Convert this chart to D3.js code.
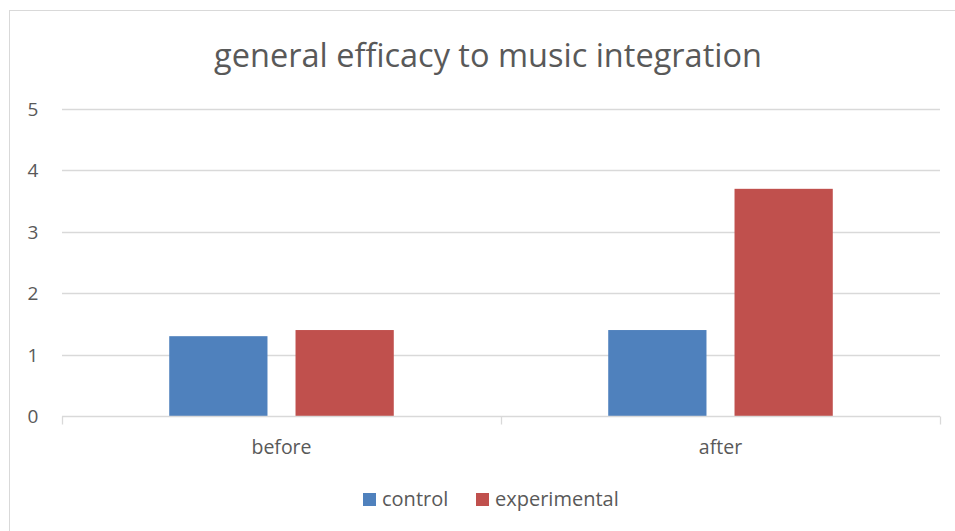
<!DOCTYPE html>
<html>
<head>
<meta charset="utf-8">
<script src="https://cdn.jsdelivr.net/npm/d3@7"></script>
<style>
  body { margin: 0; background: #fff; }
  text { font-family: "Open Sans", "Liberation Sans", sans-serif; fill: #595959; }
</style>
</head>
<body>
<div id="chart"></div>
<script>
// chart data
const categories = ["before", "after"];
const seriesNames = ["control", "experimental"];
const control = [1.3, 1.4];
const experimental = [1.4, 3.7];
const yTicks = [0, 1, 2, 3, 4, 5];
const colors = ["#4f81bd", "#c0504d"];

const width = 955, height = 531;
const margin = { left: 62, right: 15, top: 109, bottom: 115 };

const svg = d3.select("#chart").append("svg")
  .attr("width", width)
  .attr("height", height);

// outer chart border (runs off right/bottom edges)
svg.append("rect")
  .attr("x", 9.5).attr("y", 10.5)
  .attr("width", width + 10).attr("height", height + 10)
  .attr("fill", "none")
  .attr("stroke", "#d9d9d9");

const x0 = d3.scaleBand()
  .domain(categories)
  .range([margin.left, width - margin.right]);

const x1 = d3.scaleBand()
  .domain(seriesNames)
  .range([0, x0.bandwidth()])
  .paddingInner(0.222)
  .paddingOuter(0.849);

const y = d3.scaleLinear()
  .domain([0, 5])
  .range([height - margin.bottom, margin.top]);

// gridlines
svg.append("g")
  .selectAll("line")
  .data(yTicks.filter(d => d > 0))
  .join("line")
  .attr("x1", margin.left).attr("x2", width - margin.right)
  .attr("y1", d => Math.round(y(d)) + 0.5).attr("y2", d => Math.round(y(d)) + 0.5)
  .attr("stroke", "#d9d9d9")
  .attr("stroke-width", 1.3);

// y labels
svg.append("g")
  .selectAll("text")
  .data(yTicks)
  .join("text")
  .attr("x", 33)
  .attr("y", d => y(d))
  .attr("text-anchor", "middle")
  .attr("dominant-baseline", "central")
  .attr("font-size", "19px")
  .text(d => d);

// bars
const data = categories.map((c, i) => ({ cat: c, values: [control[i], experimental[i]] }));

svg.append("g")
  .selectAll("g")
  .data(data)
  .join("g")
  .attr("transform", d => `translate(${x0(d.cat)},0)`)
  .selectAll("rect")
  .data(d => d.values.map((v, j) => ({ key: seriesNames[j], value: v, j })))
  .join("rect")
  .attr("x", d => x1(d.key))
  .attr("y", d => y(d.value))
  .attr("width", x1.bandwidth())
  .attr("height", d => y(0) - y(d.value))
  .attr("fill", d => colors[d.j]);

// x axis
const xAxis = svg.append("g")
  .attr("transform", `translate(0,${Math.round(y(0)) + 0.5})`);

xAxis.append("line")
  .attr("x1", margin.left).attr("x2", width - margin.right)
  .attr("stroke", "#d9d9d9")
  .attr("stroke-width", 1.3);

const tickXs = categories.map(c => x0(c)).concat([x0(categories[categories.length - 1]) + x0.bandwidth()]);
xAxis.selectAll(".tick")
  .data(tickXs)
  .join("line")
  .attr("x1", d => Math.round(d) + 0.5).attr("x2", d => Math.round(d) + 0.5)
  .attr("y1", 0).attr("y2", 8)
  .attr("stroke", "#d9d9d9")
  .attr("stroke-width", 1.3);

xAxis.selectAll("text")
  .data(categories)
  .join("text")
  .attr("x", d => x0(d) + x0.bandwidth() / 2)
  .attr("y", 30)
  .attr("text-anchor", "middle")
  .attr("dominant-baseline", "central")
  .attr("font-size", "19.5px")
  .text(d => d);

// title
svg.append("text")
  .attr("x", 488)
  .attr("y", 54)
  .attr("text-anchor", "middle")
  .attr("dominant-baseline", "central")
  .attr("font-size", "32.5px")
  .text("general efficacy to music integration");

// legend
const legend = svg.append("g");
const legendX = [363, 476];
seriesNames.forEach((name, i) => {
  legend.append("rect")
    .attr("x", legendX[i]).attr("y", 493)
    .attr("width", 13).attr("height", 13)
    .attr("fill", colors[i]);
  legend.append("text")
    .attr("x", legendX[i] + 19)
    .attr("y", 498)
    .attr("dominant-baseline", "central")
    .attr("font-size", "20px")
    .text(name);
});
</script>
</body>
</html>
